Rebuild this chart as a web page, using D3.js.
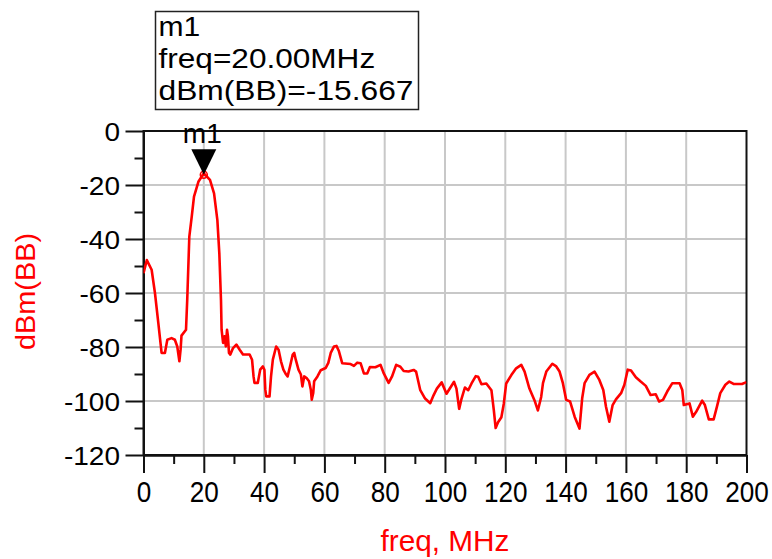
<!DOCTYPE html>
<html>
<head>
<meta charset="utf-8">
<script src="https://cdn.jsdelivr.net/npm/d3@7"></script>
<style>
  html, body { margin: 0; padding: 0; background: #fff; }
  svg { display: block; font-family: "Liberation Sans", Arial, sans-serif; }
</style>
</head>
<body>
<svg id="chart" width="772" height="559"></svg>
<script>
// Baseband spectrum: frequency (MHz) against dBm(BB)
const freqMHz = [
  0, 1.1, 2.7, 3.8, 4.9, 6.0, 7.1, 7.9, 9.3, 10.4, 11.2, 11.9, 12.3, 12.6, 14.1, 14.5,
  15.2, 16.0, 16.75, 18.2, 20, 22.05, 23.4, 24.5, 25.15, 25.7, 25.9, 26.4, 26.9, 27.3,
  27.7, 28.0, 28.35, 28.8, 29.7, 30.8, 31.9, 33, 35.2, 36, 36.5, 36.8, 37.9, 38.7, 39.6,
  40.1, 40.4, 40.7, 41.8, 42.3, 42.9, 44, 44.8, 45.6, 46.4, 47.3, 47.8, 48.6, 49.5, 50,
  50.5, 51.4, 52.2, 52.7, 53.3, 54.1, 54.9, 55.5, 55.8, 56.3, 56.6, 57.7, 58.8, 60.4,
  61.3, 62.1, 63.2, 64.0, 64.8, 65.9, 68.7, 69.8, 70.9, 72, 73.1, 74.2, 75.1, 76.9, 78.6,
  79.7, 81.3, 82.4, 83.8, 85.2, 86.3, 87.9, 89.6, 90.4, 91.8, 93.4, 95.1, 96.2, 97.3,
  98.9, 100.5, 101.9, 103, 103.8, 104.7, 105.5, 106.6, 107.7, 108.8, 110.2, 111, 112.1,
  113.7, 115.4, 116.2, 116.8, 117.6, 118.7, 119.5, 120.3, 122, 123.6, 125.3, 126.4, 128,
  129.7, 130.8, 131.9, 132.5, 133.6, 135.6, 136.9, 138, 139.1, 140.2, 141.5, 143, 144.6,
  145.5, 146.3, 147.9, 149.6, 151.2, 152.5, 153.4, 154.5, 155.6, 156.7, 158.4, 159.5,
  160.6, 161.7, 163.3, 164.9, 166.6, 168.2, 169.9, 171, 172.3, 173.7, 175.4, 177.8,
  178.7, 179.2, 181.1, 182.2, 183.3, 185.3, 186.2, 187.5, 189.1, 190.2, 191.3, 193,
  194.3, 195.7, 198.5, 200
];
const dBmBB = [
  -52.7, -47.8, -51.4, -60, -71, -82.2, -82.2, -77.3, -76.7, -77.3, -79.8, -85.3, -81, -75.8, -73.6, -62.6,
  -39.1, -31.7, -24.3, -18.8, -15.667, -18.1, -23.1, -33, -45.3, -62.6, -73.6, -78.5, -76, -79.8,
  -73.6, -76, -82.2, -82.8, -80.4, -79.1, -81, -82.8, -82.8, -84.7, -90.9, -93.3, -93.3, -88.4, -87.2,
  -88.4, -95.8, -98.3, -98.3, -90.9, -84.7, -79.8, -81, -85.3, -88.4, -90.2, -90.9, -87.2, -82.8, -82.2,
  -84.7, -88.4, -90.2, -94.6, -90.9, -91.5, -92.7, -95.8, -99.5, -97, -92.7, -90.9, -88.6, -87.8,
  -85.9, -82.2, -79.8, -79.6, -81.5, -86, -86.3, -87, -85.8, -86, -89.8, -89.8, -87.4, -87.5, -86.6,
  -89.8, -93.3, -91, -86.6, -87.3, -88.9, -89.1, -88.5, -89.1, -96, -99.1, -100.8, -97.9, -95.4,
  -93.1, -97.3, -94.8, -92.9, -95.4, -102.9, -99.1, -95, -96, -93.5, -90.8, -91, -93.8,
  -93.5, -96, -103.5, -110, -107.9, -106, -101, -93.5, -90.4, -87.9, -86.6, -89.1, -95.4,
  -99.8, -103.5, -98.5, -93.4, -89.1, -86.2, -87.2, -89.1, -93.4, -99.6, -100.2, -105.8, -110.2,
  -99, -93.4, -90.3, -89.1, -92.2, -95.9, -102.1, -107.7, -101.5, -99.4, -97.1, -94,
  -88.4, -88.7, -91.2, -92.8, -94.4, -97.8, -97.5, -100.2, -99.6, -96.5, -93.4, -93.4,
  -95.9, -101.5, -100.9, -105.8, -104, -99.9, -101.5, -106.8, -106.8, -102.1, -97.1, -94,
  -92.8, -93.7, -93.7, -93
];

// Axis ticks
const xMajorTicks = [0, 20, 40, 60, 80, 100, 120, 140, 160, 180, 200];
const xMinorTicks = [10, 30, 50, 70, 90, 110, 130, 150, 170, 190];
const yMajorTicks = [0, -20, -40, -60, -80, -100, -120];
const yMinorTicks = [-10, -30, -50, -70, -90, -110];

// Marker m1
const markerName = "m1";
const markerFreq = 20;
const markerValue = -15.667;
const markerLines = [markerName, "freq=20.00MHz", "dBm(BB)=-15.667"];

const xTitle = "freq, MHz";
const yTitle = "dBm(BB)";

const svg = d3.select("#chart");
const W = 772, H = 559;
const plot = { left: 143.5, right: 746.5, top: 131, bottom: 455 };

svg.append("rect").attr("width", W).attr("height", H).attr("fill", "#fff");

const x = d3.scaleLinear().domain([0, 200]).range([plot.left, plot.right]);
const y = d3.scaleLinear().domain([-120, 0]).range([plot.bottom, plot.top]);

// stretch a text element horizontally by factor k
function stretch(node, k) {
  const len = node.getComputedTextLength();
  d3.select(node).attr("textLength", len * k).attr("lengthAdjust", "spacingAndGlyphs");
}

// Grid
const grid = svg.append("g").attr("stroke", "#c8c8c8").attr("stroke-width", 2);
grid.selectAll("line.gx").data(xMajorTicks.slice(1, -1)).join("line")
  .attr("x1", d => x(d)).attr("x2", d => x(d))
  .attr("y1", plot.top).attr("y2", plot.bottom);
grid.selectAll("line.gy").data(yMajorTicks.slice(1, -1)).join("line")
  .attr("x1", plot.left).attr("x2", plot.right)
  .attr("y1", d => y(d)).attr("y2", d => y(d));

// Frame
svg.append("rect")
  .attr("x", plot.left).attr("y", plot.top)
  .attr("width", plot.right - plot.left).attr("height", plot.bottom - plot.top)
  .attr("fill", "none").attr("stroke", "#111").attr("stroke-width", 2);

// Axes
const xAxis = svg.append("g").attr("transform", `translate(0,${plot.bottom})`)
  .call(d3.axisBottom(x).tickValues(xMajorTicks).tickSize(18).tickSizeOuter(0)
    .tickPadding(7.5).tickFormat(d => String(d)));
const xMinor = svg.append("g").attr("transform", `translate(0,${plot.bottom})`)
  .call(d3.axisBottom(x).tickValues(xMinorTicks).tickSize(9).tickSizeOuter(0).tickFormat(""));
const yAxis = svg.append("g").attr("transform", `translate(${plot.left},0)`)
  .call(d3.axisLeft(y).tickValues(yMajorTicks).tickSize(18).tickSizeOuter(0)
    .tickPadding(5.5).tickFormat(d => String(d)));
const yMinor = svg.append("g").attr("transform", `translate(${plot.left},0)`)
  .call(d3.axisLeft(y).tickValues(yMinorTicks).tickSize(9).tickSizeOuter(0).tickFormat(""));

[xAxis, xMinor, yAxis, yMinor].forEach(g => {
  g.select(".domain").attr("stroke", "#111").attr("stroke-width", 2);
  g.selectAll(".tick line").attr("stroke", "#111").attr("stroke-width", 2);
});
xAxis.selectAll(".tick text")
  .attr("font-family", "Liberation Sans, Arial, sans-serif")
  .attr("font-size", 30).attr("fill", "#000")
  .each(function () { stretch(this, 0.87); });
yAxis.selectAll(".tick text")
  .attr("font-family", "Liberation Sans, Arial, sans-serif")
  .attr("font-size", 25).attr("fill", "#000").attr("dy", "0.36em")
  .each(function () { stretch(this, 1.12); });

// Trace
const data = freqMHz.map((f, i) => ({ f, v: dBmBB[i] }));
svg.append("defs").append("clipPath").attr("id", "plotClip")
  .append("rect").attr("x", plot.left).attr("y", plot.top)
  .attr("width", plot.right - plot.left).attr("height", plot.bottom - plot.top);
svg.append("path")
  .datum(data)
  .attr("clip-path", "url(#plotClip)")
  .attr("fill", "none")
  .attr("stroke", "#ff0000")
  .attr("stroke-width", 2.6)
  .attr("stroke-linejoin", "round")
  .attr("d", d3.line().x(d => x(d.f)).y(d => y(d.v)));

// Marker symbol
const mx = x(markerFreq), my = y(markerValue);
svg.append("circle").attr("cx", mx).attr("cy", my + 1.5).attr("r", 3.5)
  .attr("fill", "none").attr("stroke", "#ff0000").attr("stroke-width", 1.5);
svg.append("path")
  .attr("d", `M${mx - 12.5},${my - 24} L${mx + 12.5},${my - 24} L${mx},${my + 1.5} Z`)
  .attr("fill", "#000");
svg.append("text")
  .attr("x", mx - 1.5).attr("y", my - 30)
  .attr("text-anchor", "middle").attr("font-size", 28).attr("fill", "#000")
  .text(markerName);

// Marker readout box
const box = svg.append("g");
box.append("rect")
  .attr("x", 155.5).attr("y", 11.5).attr("width", 263).attr("height", 98)
  .attr("fill", "#fff").attr("stroke", "#222").attr("stroke-width", 1.5);
const boxLens = [41.7, 216.7, 255];
box.selectAll("text").data(markerLines).join("text")
  .attr("x", 158.5)
  .attr("y", (d, i) => 36 + i * 31.8)
  .attr("font-size", 27).attr("fill", "#000")
  .attr("textLength", (d, i) => boxLens[i])
  .attr("lengthAdjust", "spacingAndGlyphs")
  .text(d => d);

// Axis titles
svg.append("text")
  .attr("x", 445).attr("y", 551)
  .attr("text-anchor", "middle").attr("font-size", 29).attr("fill", "#ff0000")
  .attr("textLength", 129).attr("lengthAdjust", "spacingAndGlyphs")
  .text(xTitle);
svg.append("text")
  .attr("transform", "translate(35,291.5) rotate(-90)")
  .attr("text-anchor", "middle").attr("font-size", 28).attr("fill", "#ff0000")
  .attr("textLength", 117).attr("lengthAdjust", "spacingAndGlyphs")
  .text(yTitle);
</script>
</body>
</html>
